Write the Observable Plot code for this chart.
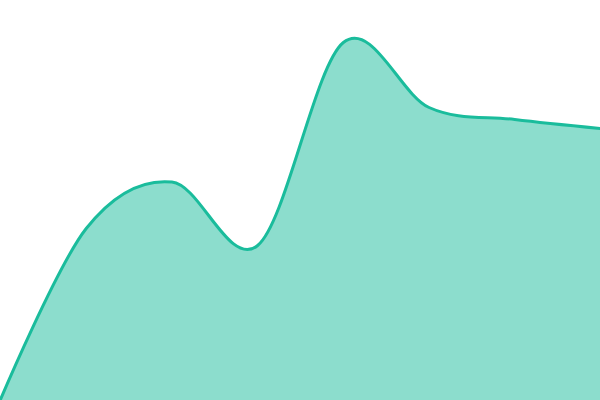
<!DOCTYPE html>
<html>
<head>
<meta charset="utf-8">
<script src="https://cdn.jsdelivr.net/npm/d3@7"></script>
<script src="https://cdn.jsdelivr.net/npm/@observablehq/plot@0.6"></script>
<style>
  html, body { margin: 0; padding: 0; background: #fff; }
  #chart svg { display: block; }
</style>
</head>
<body>
<div id="chart"></div>
<script>
const steps = [0, 1, 2, 3, 4, 5, 6, 7];
const values = [1, 172, 218.5, 155, 358, 293, 281, 272];

const data = steps.map((s, i) => ({step: s, value: values[i]}));

const chart = Plot.plot({
  width: 600,
  height: 400,
  margin: 0,
  x: {domain: [0, 7], axis: null},
  y: {domain: [0, 400], axis: null},
  marks: [
    Plot.areaY(data, {x: "step", y: "value", curve: "cardinal", fill: "#1abc9c", fillOpacity: 0.5}),
    Plot.lineY(data, {x: "step", y: "value", curve: "cardinal", stroke: "#1abc9c", strokeWidth: 3})
  ]
});
document.getElementById("chart").appendChild(chart);
</script>
</body>
</html>
